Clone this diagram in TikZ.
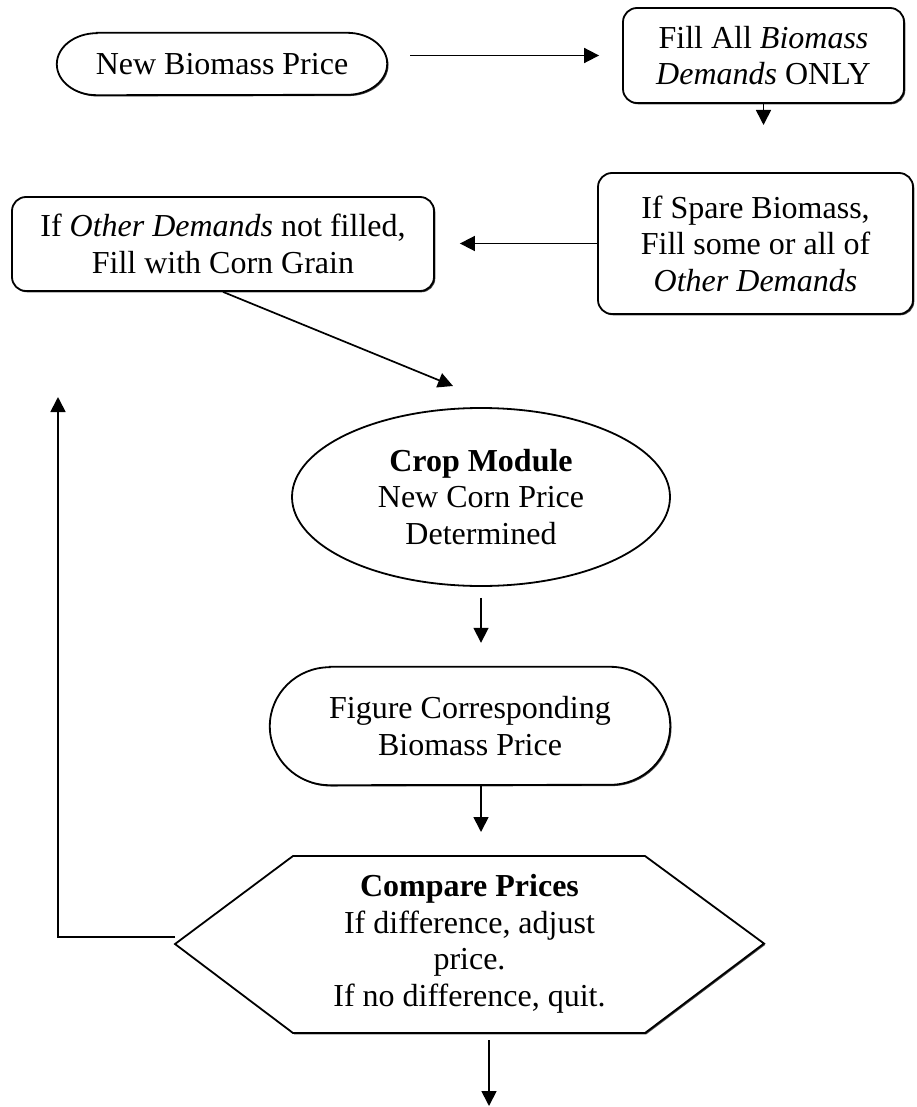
\documentclass[tikz,border=0pt]{standalone}
\usepackage{fontspec}
\setmainfont{Liberation Serif}
\usetikzlibrary{arrows.meta,calc,shapes.geometric}
\begin{document}
\begin{tikzpicture}[x=1pt,y=-1pt,
  txt/.style={font=\fontsize{32}{36.5}\selectfont, align=center, inner sep=0pt},
  shade/.style={fill=white, preaction={fill=black!75, transform canvas={shift={(1.3pt,-1.3pt)}}}},
  box/.style={txt, draw, shade, line width=1.8pt, rounded corners=14pt},
  arr/.style={line width=1.7pt, -{Triangle[length=15pt,width=15pt]}},
  edge/.style={line width=1.8pt}]
\useasboundingbox (0,0) rectangle (916,1107);

% nodes
\node[txt, minimum width=330pt, minimum height=62pt] (n1) at (222,64) {\phantom{New Biomass Price}};
\draw[edge, shade] ([xshift=40pt]n1.north west) -- ([xshift=-40pt]n1.north east)
  arc[start angle=90,end angle=-90,x radius=40pt,y radius=31pt]
  -- ([xshift=40pt]n1.south west)
  arc[start angle=270,end angle=90,x radius=40pt,y radius=31pt] -- cycle;
\node[txt] at (n1) {New Biomass Price};

\node[box, minimum width=281pt, minimum height=95pt] (n2) at (763.5,55.5)
  {Fill All \textit{Biomass}\\\textit{Demands} ONLY};

\node[box, minimum width=315pt, minimum height=141pt] (n3) at (755.5,243.5)
  {If Spare Biomass,\\Fill some or all of\\\textit{Other Demands}};

\node[box, minimum width=422pt, minimum height=94pt] (n4) at (223,244)
  {If \textit{Other Demands} not filled,\\Fill with Corn Grain};

\node[txt, draw, ellipse, line width=1.8pt, minimum width=378pt, minimum height=178pt] (crop) at (481,497)
  {\textbf{Crop Module}\\New Corn Price\\Determined};

\node[txt, minimum width=400pt, minimum height=118pt] (fig) at (470,726)
  {\phantom{Figure Corresponding}};
\draw[edge, shade] ([xshift=60pt]fig.north west) -- ([xshift=-60pt]fig.north east)
  arc[start angle=90,end angle=-90,x radius=60pt,y radius=59pt]
  -- ([xshift=60pt]fig.south west)
  arc[start angle=270,end angle=90,x radius=60pt,y radius=59pt] -- cycle;
\node[txt] at (fig) {Figure Corresponding\\Biomass Price};

\coordinate (hNW) at (293,856);
\coordinate (hNE) at (645,856);
\coordinate (hE) at (764,943.5);
\coordinate (hSE) at (645,1033);
\coordinate (hSW) at (293,1033);
\coordinate (hW) at (175,944);
\draw[edge, shade, line join=miter] (hNW) -- (hNE) -- (hE) -- (hSE) -- (hSW) -- (hW) -- cycle;
\node[txt] (hex) at (469.5,944)
  {\textbf{Compare Prices}\\If difference, adjust\\price.\\If no difference, quit.};

% free ends
\coordinate (n2end) at (763.5,125);
\coordinate (diagend) at (453,386);
\coordinate (loopend) at (58,397);
\coordinate (endS) at (489,1106);

% connectors
\draw[arr, shorten <=23pt, shorten >=23pt] (n1.east |- n2.west) -- (n2.west);
\draw[arr] (n2.south) -- (n2end);
\draw[arr, shorten >=25pt] (n3.west) -- (n3.west -| n4.east);
\draw[arr] (n4.south) -- (diagend);
\draw[arr, shorten <=11pt, shorten >=24pt] (crop.south) -- (crop.south |- fig.north);
\draw[arr, shorten >=24pt] (crop.south |- fig.south) -- (crop.south |- hNW);
\draw[arr] ([yshift=7pt]hW) -| (loopend);
\draw[arr, shorten <=7pt] (endS |- hSW) -- (endS);
\end{tikzpicture}
\end{document}
